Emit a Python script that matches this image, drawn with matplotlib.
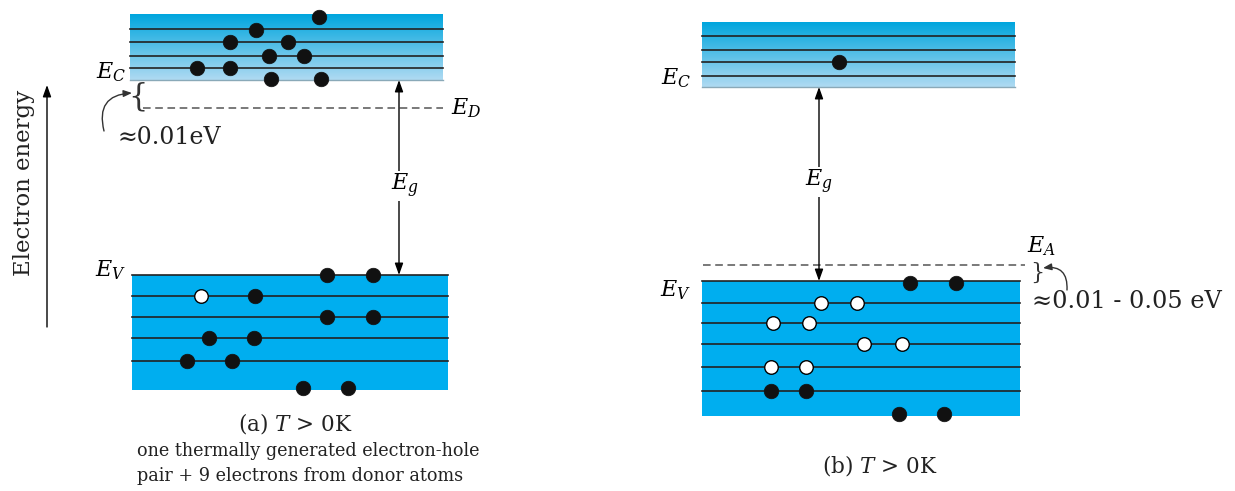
import numpy as np
import matplotlib
matplotlib.use("Agg")
import matplotlib.pyplot as plt

plt.rcParams['font.family'] = ['DejaVu Serif']
plt.rcParams['mathtext.fontset'] = 'dejavuserif'

# band geometry, in picture pixels (x0, x1, top, bottom)
cb_a = (130, 443, 14, 80)
vb_a = (132, 448, 275, 390)
cb_b = (702, 1015, 22, 87)
vb_b = (702, 1020, 281, 416)

# energy levels inside each band
cb_a_levels = [29, 42, 56, 68]
vb_a_levels = [275, 296, 317, 338, 361]
cb_b_levels = [36, 50, 62, 76]
vb_b_levels = [281, 303, 323, 344, 367, 391]

# electrons (filled) and holes (open)
cb_a_elec_x = [319, 256, 230, 288, 269, 304, 197, 230, 271, 321]
cb_a_elec_y = [17, 30, 42, 42, 56, 56, 68, 68, 79, 79]
vb_a_elec_x = [327, 373, 255, 327, 373, 209, 254, 187, 232, 303, 348]
vb_a_elec_y = [275, 275, 296, 317, 317, 338, 338, 361, 361, 388, 388]
vb_a_hole_x = [201]
vb_a_hole_y = [296]

cb_b_elec_x = [839]
cb_b_elec_y = [62]
vb_b_elec_x = [910, 956, 771, 806, 899, 944]
vb_b_elec_y = [283, 283, 391, 391, 414, 414]
vb_b_hole_x = [821, 857, 773, 809, 864, 902, 771, 806]
vb_b_hole_y = [303, 303, 323, 323, 344, 344, 367, 367]

ED_y = 108
EA_y = 265

fig = plt.figure(figsize=(12.35, 4.91), dpi=100)
ax = fig.add_axes([0, 0, 1, 1])
ax.axis('off')

BLUE = '#00aeef'
INK = '#222222'


def grad_band(box, levels):
    x0, x1, top, bot = box
    c_top = np.array([0, 166, 222]) / 255
    c_bot = np.array([175, 218, 242]) / 255
    t = np.linspace(0, 1, 100)[:, None]
    img = (c_top[None, :] * (1 - t) + c_bot[None, :] * t)[:, None, :]
    img = np.repeat(img, 2, axis=1)
    ax.imshow(img, extent=(x0, x1, bot, top), origin='upper', aspect='auto', zorder=1)
    ax.plot([x0, x1], [bot, bot], color='#8aa9b8', lw=1.0, zorder=2)
    for y in levels:
        ax.plot([x0, x1], [y, y], color=INK, lw=1.2, zorder=2)


def solid_band(box, levels):
    x0, x1, top, bot = box
    ax.fill_between([x0, x1], top, bot, color=BLUE, lw=0, zorder=1)
    for y in levels:
        ax.plot([x0, x1], [y, y], color=INK, lw=1.2, zorder=2)


def dots(xs, ys, hole=False):
    if hole:
        ax.scatter(xs, ys, s=95, facecolor='white', edgecolor='black', lw=1.0, zorder=4)
    else:
        ax.scatter(xs, ys, s=110, facecolor='#111111', edgecolor='#111111', lw=0.5, zorder=4)


grad_band(cb_a, cb_a_levels)
solid_band(vb_a, vb_a_levels)
grad_band(cb_b, cb_b_levels)
solid_band(vb_b, vb_b_levels)

dots(cb_a_elec_x, cb_a_elec_y)
dots(vb_a_elec_x, vb_a_elec_y)
dots(vb_a_hole_x, vb_a_hole_y, hole=True)
dots(cb_b_elec_x, cb_b_elec_y)
dots(vb_b_elec_x, vb_b_elec_y)
dots(vb_b_hole_x, vb_b_hole_y, hole=True)

# donor / acceptor levels
ax.plot([143, 443], [ED_y, ED_y], color='#555555', lw=1.1, ls=(0, (5, 3)), zorder=2)
ax.plot([703, 1025], [EA_y, EA_y], color='#555555', lw=1.1, ls=(0, (5, 3)), zorder=2)

# band gap arrows
gap = dict(arrowstyle='<|-|>,head_length=0.7,head_width=0.25', color='black', lw=1.0,
           shrinkA=0, shrinkB=0)
ax.annotate('', xy=(399, cb_a[3]), xytext=(399, vb_a[2]), arrowprops=gap, zorder=3)
ax.annotate('', xy=(819, cb_b[3]), xytext=(819, vb_b[2]), arrowprops=gap, zorder=3)
ax.text(405, 186, r'$E_g$', fontsize=16, ha='center', va='center', zorder=5,
        bbox=dict(facecolor='white', edgecolor='none', pad=1))
ax.text(819, 182, r'$E_g$', fontsize=16, ha='center', va='center', zorder=5,
        bbox=dict(facecolor='white', edgecolor='none', pad=1))

# electron energy axis
ax.annotate('', xy=(47, 85), xytext=(47, 327),
            arrowprops=dict(arrowstyle='-|>,head_length=0.7,head_width=0.25', color='black',
                            lw=1.0, shrinkA=0, shrinkB=0))
ax.text(24, 183, 'Electron energy', fontsize=16.5, rotation=90, ha='center', va='center',
        color=INK)

# band labels
ax.text(111, 72, r'$E_C$', fontsize=16, ha='center', va='center')
ax.text(111, 270, r'$E_V$', fontsize=16, ha='center', va='center')
ax.text(466, 108, r'$E_D$', fontsize=16, ha='center', va='center')
ax.text(676, 78, r'$E_C$', fontsize=16, ha='center', va='center')
ax.text(676, 290, r'$E_V$', fontsize=16, ha='center', va='center')
ax.text(1041, 246, r'$E_A$', fontsize=16, ha='center', va='center')

# ionisation energy markers
ax.text(138, 97, '{', fontsize=22, ha='center', va='center', color='#333333')
ax.annotate('', xy=(132, 93), xytext=(104, 131),
            arrowprops=dict(arrowstyle='-|>,head_length=0.5,head_width=0.2', color='#333333',
                            lw=1.0, connectionstyle='arc3,rad=-0.6', shrinkA=0, shrinkB=0))
ax.text(118, 138, '≈0.01eV', fontsize=17, ha='left', va='center', color=INK)

ax.text(1037, 273, '}', fontsize=16, ha='center', va='center', color='#333333')
ax.annotate('', xy=(1043, 268), xytext=(1067, 290),
            arrowprops=dict(arrowstyle='-|>,head_length=0.5,head_width=0.2', color='#333333',
                            lw=1.0, connectionstyle='arc3,rad=0.6', shrinkA=0, shrinkB=0))
ax.text(1032, 302, '≈0.01 - 0.05 eV', fontsize=17.3, ha='left', va='center', color=INK)

# captions
ax.text(295, 423, r'(a) $T$ > 0K', fontsize=15.5, ha='center', va='center', color=INK)
ax.text(137, 451, 'one thermally generated electron-hole', fontsize=12.7, ha='left',
        va='center', color=INK)
ax.text(137, 476, 'pair + 9 electrons from donor atoms', fontsize=12.7, ha='left',
        va='center', color=INK)
ax.text(880, 465, r'(b) $T$ > 0K', fontsize=15.5, ha='center', va='center', color=INK)

ax.set_xlim(0, 1235)
ax.set_ylim(491, 0)

fig.savefig('out.png', dpi=100, facecolor='white')
